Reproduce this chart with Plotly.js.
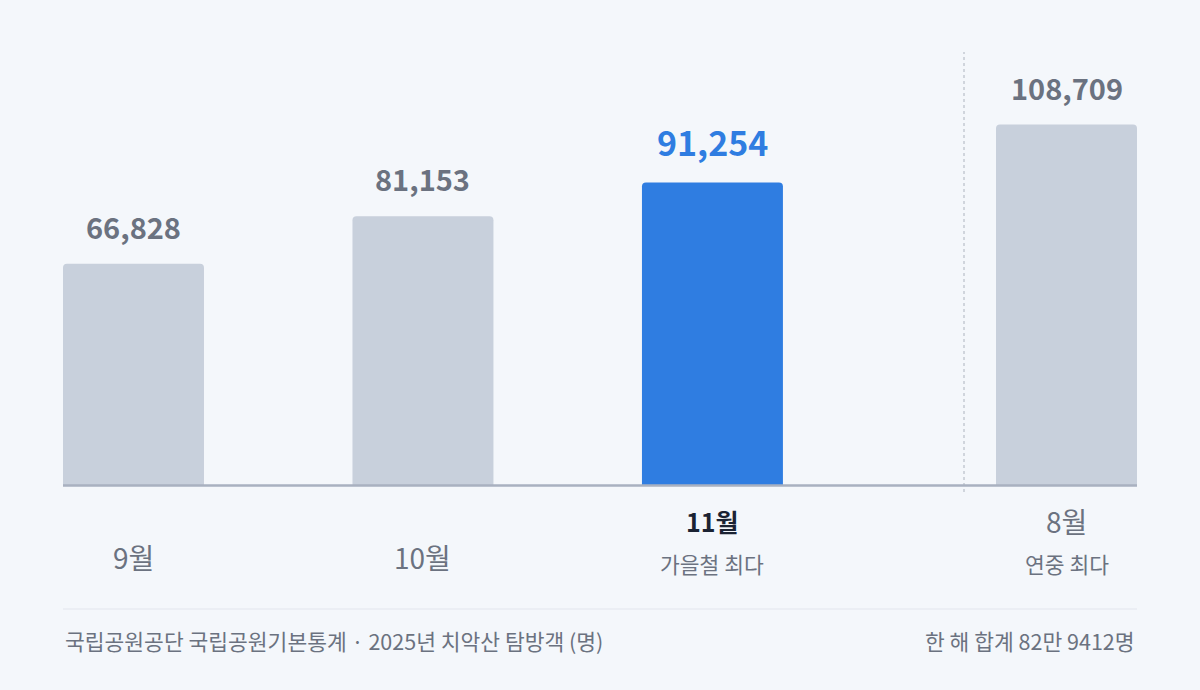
<!DOCTYPE html>
<html>
<head>
<meta charset="utf-8">
<script src="https://cdn.plot.ly/plotly-3.0.1.min.js"></script>
<style>
  html, body { margin: 0; padding: 0; background: #f4f7fb; }
  #chart { width: 1200px; height: 690px; }
</style>
</head>
<body>
<div id="chart"></div>
<script>
// ---- data ----
const autumnMonths = ['9월', '10월', '11월'];
const autumnVisitors = [66828, 81153, 91254];
const peakMonth = ['8월'];
const peakVisitors = [108709];
const highlightMonth = '11월';
const subLabels = { '11월': '가을철 최다', '8월': '연중 최다' };
const sourceText = '국립공원공단 국립공원기본통계 · 2025년 치악산 탐방객 (명)';
const totalText = '한 해 합계 82만 9412명';

// ---- styles ----
const FONT = '"Noto Sans CJK KR", "Noto Sans", sans-serif';
const GREY = '#c8d0dc';
const BLUE = '#2f7de1';
const LABEL_GREY = '#6b7280';
const DARK = '#1b2333';

const fmt = v => v.toLocaleString('en-US');

const traces = [
  {
    type: 'bar', x: autumnMonths, y: autumnVisitors, xaxis: 'x', yaxis: 'y',
    width: 0.487,
    marker: { color: autumnMonths.map(m => m === highlightMonth ? BLUE : GREY), cornerradius: 4 },
    hoverinfo: 'skip'
  },
  {
    type: 'bar', x: peakMonth, y: peakVisitors, xaxis: 'x2', yaxis: 'y2',
    width: 0.487,
    marker: { color: GREY, cornerradius: 4 },
    hoverinfo: 'skip'
  }
];

const annotations = [];
function addLabels(cats, vals, xref, yref) {
  cats.forEach((c, i) => {
    const hl = c === highlightMonth;
    annotations.push({
      x: c, y: vals[i], xref: xref, yref: yref, yanchor: 'bottom', yshift: 15,
      text: '<b>' + fmt(vals[i]) + '</b>', showarrow: false,
      font: { family: FONT, size: hl ? 34 : 29, color: hl ? BLUE : LABEL_GREY }
    });
    const sub = subLabels[c];
    if (sub) {
      annotations.push({
        x: c, y: 521, xref: xref, yref: 'paper', yanchor: 'middle',
        text: hl ? '<b>' + c + '</b>' : c, showarrow: false,
        font: { family: FONT, size: hl ? 25 : 28, color: hl ? DARK : LABEL_GREY }
      });
      annotations.push({
        x: c, y: 563, xref: xref, yref: 'paper', yanchor: 'middle',
        text: sub, showarrow: false,
        font: { family: FONT, size: 21.5, color: LABEL_GREY }
      });
    } else {
      annotations.push({
        x: c, y: 557, xref: xref, yref: 'paper', yanchor: 'middle',
        text: c, showarrow: false,
        font: { family: FONT, size: 28, color: LABEL_GREY }
      });
    }
  });
}

// plot area in pixels: top=40, bottom=486, left=63, right=1137
const T = 40, B = 486, L = 63, R = 1137;
const py = px => (B - px) / (B - T);
const pxX = px => (px - L) / (R - L);

addLabels(autumnMonths, autumnVisitors, 'x', 'y');
addLabels(peakMonth, peakVisitors, 'x2', 'y2');
annotations.forEach(a => { if (a.yref === 'paper') a.y = py(a.y); });

annotations.push({
  x: 0, y: py(640), xref: 'paper', yref: 'paper', xanchor: 'left', yanchor: 'middle',
  text: sourceText, showarrow: false, font: { family: FONT, size: 21.5, color: LABEL_GREY }
});
annotations.push({
  x: 1, y: py(640), xref: 'paper', yref: 'paper', xanchor: 'right', yanchor: 'middle',
  text: totalText, showarrow: false, font: { family: FONT, size: 21.5, color: LABEL_GREY }
});

const sepX = pxX(964);
const yMax = (B - T) / 0.003325;

const layout = {
  width: 1200, height: 690,
  margin: { l: L, r: 1200 - R, t: T, b: 690 - B },
  paper_bgcolor: '#f4f7fb', plot_bgcolor: '#f4f7fb',
  showlegend: false,
  font: { family: FONT },
  xaxis: { domain: [0, sepX], type: 'category', range: [-0.2435, 2.869],
           showticklabels: false, showgrid: false, zeroline: false, showline: false, fixedrange: true },
  xaxis2: { domain: [sepX, 1], type: 'category', range: [-0.354, 0.2435], anchor: 'y2',
            showticklabels: false, showgrid: false, zeroline: false, showline: false, fixedrange: true },
  yaxis: { range: [0, yMax], visible: false, fixedrange: true },
  yaxis2: { range: [0, yMax], visible: false, fixedrange: true, anchor: 'x2', overlaying: 'y' },
  shapes: [
    { type: 'line', xref: 'paper', yref: 'paper', x0: sepX, x1: sepX, y0: py(492), y1: py(52),
      line: { color: '#b8bec8', width: 1.2, dash: 'dot' } },
    { type: 'line', xref: 'paper', yref: 'paper', x0: 0, x1: 1, y0: py(485.5), y1: py(485.5),
      line: { color: '#a9b1c0', width: 2.5 } },
    { type: 'line', xref: 'paper', yref: 'paper', x0: 0, x1: 1, y0: py(609), y1: py(609),
      line: { color: '#e1e6ee', width: 1.2 } }
  ],
  annotations: annotations
};

Plotly.newPlot('chart', traces, layout, { displayModeBar: false, staticPlot: true });
</script>
</body>
</html>
